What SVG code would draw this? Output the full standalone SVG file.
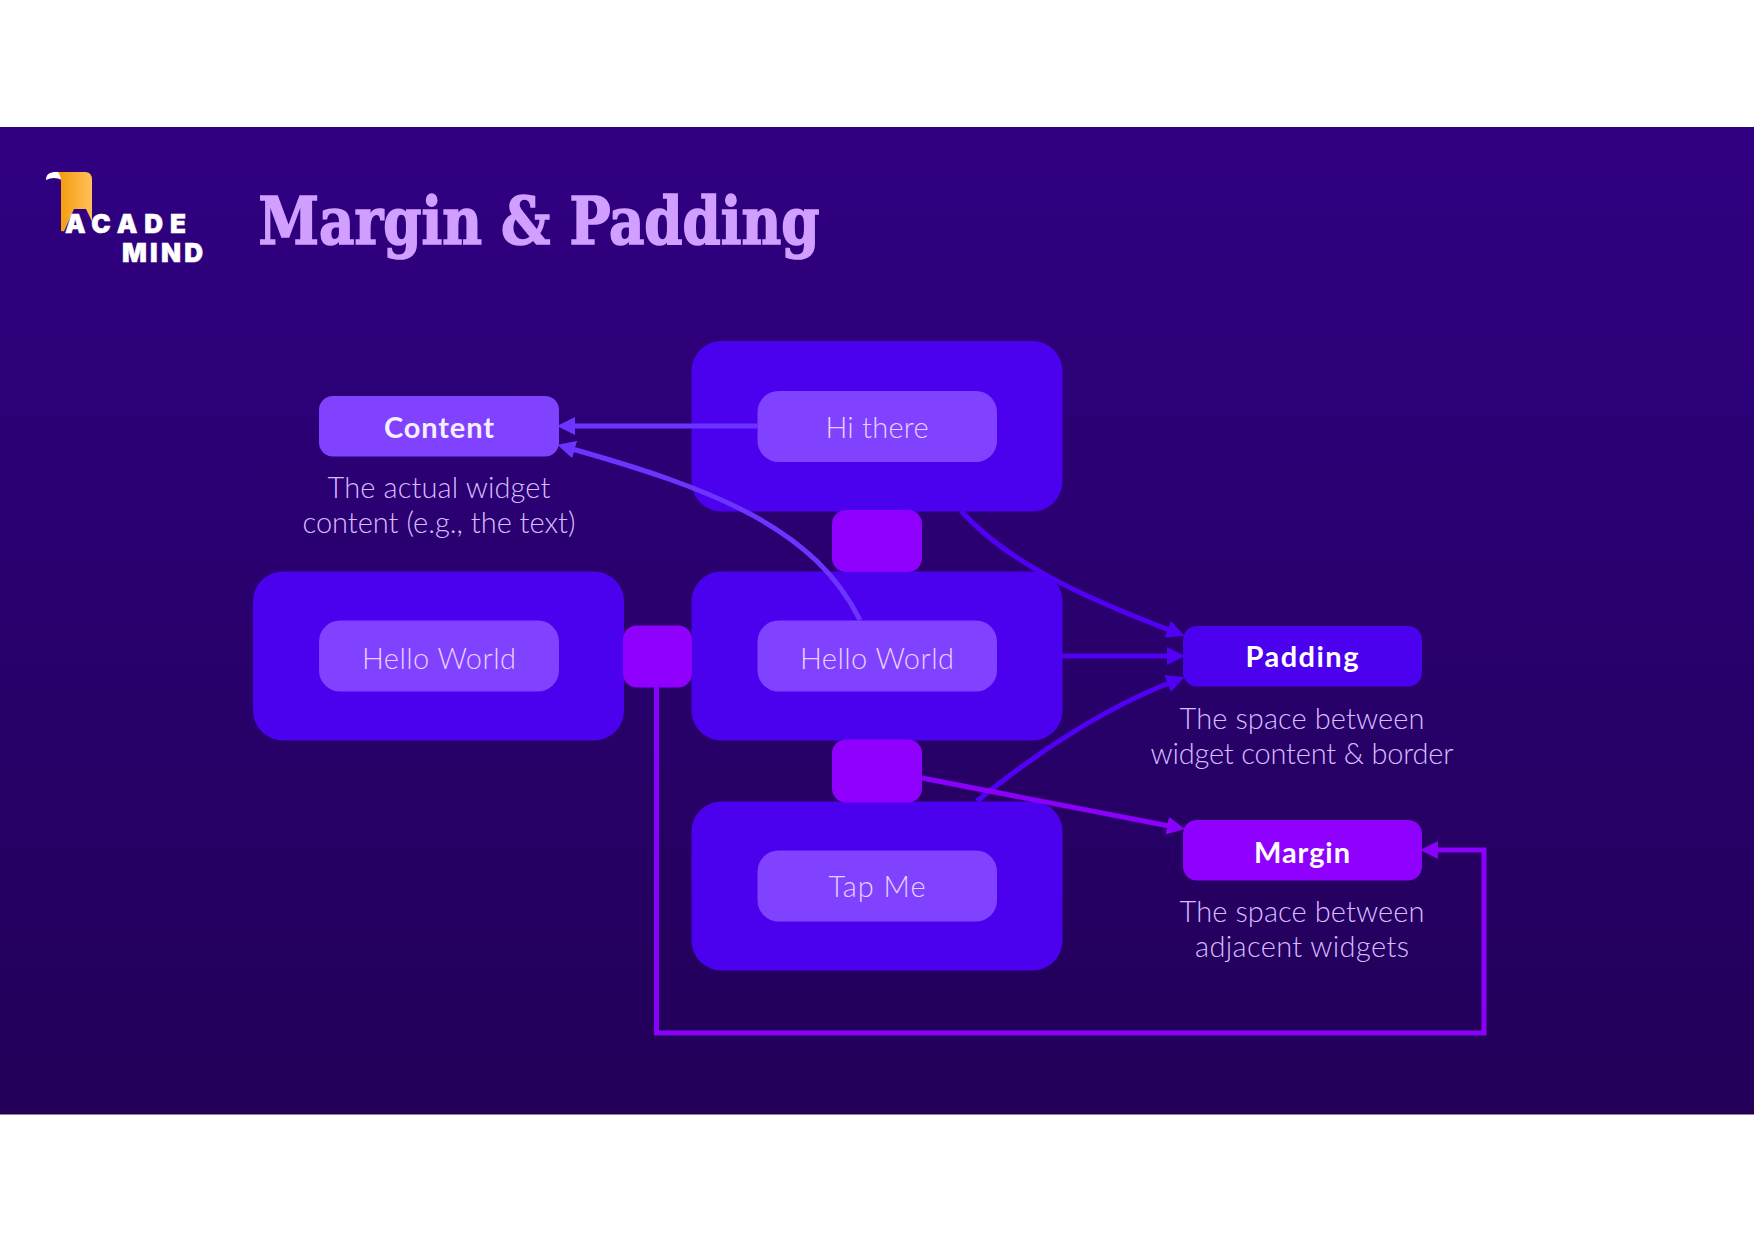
<svg xmlns="http://www.w3.org/2000/svg" width="1754" height="1240" viewBox="0 0 1754 1240">
<style>
text{font-family:"Lato","Noto Sans",sans-serif;text-anchor:middle}
.big{fill:#4b00ee}
.inner{fill:#8042ff}
.gap{fill:#8f00ff}
.t{font-size:29px;font-weight:300;fill:#e6d2ff}
.d{font-size:29px;font-weight:300;fill:#d8bcff}
.b{font-size:29px;font-weight:700;fill:#f6eeff}
.w{font-size:29px;font-weight:700;fill:#ffffff}
.c{fill:none;stroke-width:5}
.l{stroke:#6d34ff}.p{stroke:#5200f5}.m{stroke:#8a00fa}
.logo{font-family:"Inter","Lato",sans-serif;font-weight:900;font-size:26px;fill:#fff;stroke:#fff;stroke-width:.5;text-anchor:start}
</style>
<defs>
<linearGradient id="bg" x1="0" y1="0" x2="0" y2="1"><stop offset="0" stop-color="#300082"/><stop offset="1" stop-color="#220058"/></linearGradient>
<linearGradient id="rib" x1="0" y1="0" x2="1" y2="0"><stop offset="0" stop-color="#f59a0c"/><stop offset="1" stop-color="#ffc05a"/></linearGradient>
<marker id="al" markerUnits="userSpaceOnUse" markerWidth="19" markerHeight="20" refX="10" refY="10" orient="auto"><path d="M0 1L18 10L0 19Z" fill="#6d34ff"/></marker>
<marker id="ap" markerUnits="userSpaceOnUse" markerWidth="19" markerHeight="20" refX="10" refY="10" orient="auto"><path d="M0 1L18 10L0 19Z" fill="#5200f5"/></marker>
<marker id="am" markerUnits="userSpaceOnUse" markerWidth="19" markerHeight="20" refX="10" refY="10" orient="auto"><path d="M0 1L18 10L0 19Z" fill="#8a00fa"/></marker>
</defs>
<rect width="1754" height="1240" fill="#fff"/>
<rect id="banner" y="127" width="1754" height="987.5" fill="url(#bg)"/>
<g id="logo">
<path d="M46 180C46 174 50 172 56 172H62V180Q54 176 46 180Z" fill="#fff"/>
<path d="M58 172H85Q92 172 92 180V232H68L61 231V182Q61 176 58 172Z" fill="url(#rib)"/>
<path d="M62 236L74 209H86L99 236Z" fill="#30007f"/>
<text class="logo" x="65" y="233" textLength="121" lengthAdjust="spacing">ACADE</text>
<text class="logo" x="122" y="262" textLength="81" lengthAdjust="spacing">MIND</text>
</g>
<text id="title" x="539" y="244" font-size="65" font-weight="700" fill="#d09fff" stroke="#d09fff" stroke-width="1.6" textLength="561" lengthAdjust="spacingAndGlyphs" style="font-family:'DejaVu Serif Condensed','DejaVu Serif',serif">Margin &amp; Padding</text>

<g id="widget-top"><rect class="big" x="691.5" y="341" width="371" height="170.5" rx="30"/><rect class="inner" x="757.5" y="391" width="239.5" height="71" rx="21"/><text class="t" x="877" y="437.5" textLength="103">Hi there</text></g>
<g id="widget-left"><rect class="big" x="253" y="571.5" width="371" height="169" rx="30"/><rect class="inner" x="319" y="620.5" width="240" height="71" rx="21"/><text class="t" x="439" y="668.5" textLength="154">Hello World</text></g>
<g id="widget-center"><rect class="big" x="691.5" y="571.5" width="371" height="169" rx="30"/><rect class="inner" x="757.5" y="620.5" width="239.5" height="71" rx="21"/></g>
<g id="widget-bottom"><rect class="big" x="691.5" y="801.5" width="371" height="169" rx="30"/><rect class="inner" x="757.5" y="850.5" width="239.5" height="71" rx="21"/><text class="t" x="877" y="897" textLength="97">Tap Me</text></g>
<g id="margin-top"><rect class="gap" x="832" y="510" width="90" height="62" rx="14"/></g>
<g id="margin-left"><rect class="gap" x="623" y="625.5" width="69" height="62" rx="14"/></g>
<g id="margin-bottom"><rect class="gap" x="832" y="739.5" width="90" height="63" rx="14"/></g>

<g id="connectors">
<path class="c l" d="M757.5 426H565" marker-end="url(#al)"/>
<path class="c l" d="M860 620C815 530 720 490 565 447" marker-end="url(#al)"/>
<path class="c p" d="M961 511C1010 565 1090 600 1177 633" marker-end="url(#ap)"/>
<path class="c p" d="M1062 656H1177" marker-end="url(#ap)"/>
<path class="c p" d="M977 801C1040 750 1110 705 1177 680" marker-end="url(#ap)"/>
<path class="c m" d="M922 778L1177 827.5" marker-end="url(#am)"/>
<path class="c m" d="M656.5 687V1033H1484V850H1428" marker-end="url(#am)"/>
</g>

<g id="widget-center-label"><text class="t" x="877" y="668.5" textLength="154">Hello World</text></g>
<g id="content"><rect class="inner" x="319" y="396" width="240" height="60.5" rx="14"/><text class="b" x="439" y="437.5" textLength="110">Content</text><text class="d" x="439" y="497.5" textLength="223">The actual widget</text><text class="d" x="439" y="532.5" textLength="273">content (e.g., the text)</text></g>
<g id="padding"><rect class="big" x="1183" y="626" width="239" height="60.5" rx="14"/><text class="w" x="1302" y="666.5" textLength="113">Padding</text><text class="d" x="1302" y="729" textLength="245">The space between</text><text class="d" x="1302" y="764" textLength="303">widget content &amp; border</text></g>
<g id="margin"><rect class="gap" x="1183" y="820" width="239" height="60.5" rx="14"/><text class="w" x="1302" y="862.5" textLength="96">Margin</text><text class="d" x="1302" y="922" textLength="245">The space between</text><text class="d" x="1302" y="957" textLength="214">adjacent widgets</text></g>
</svg>
